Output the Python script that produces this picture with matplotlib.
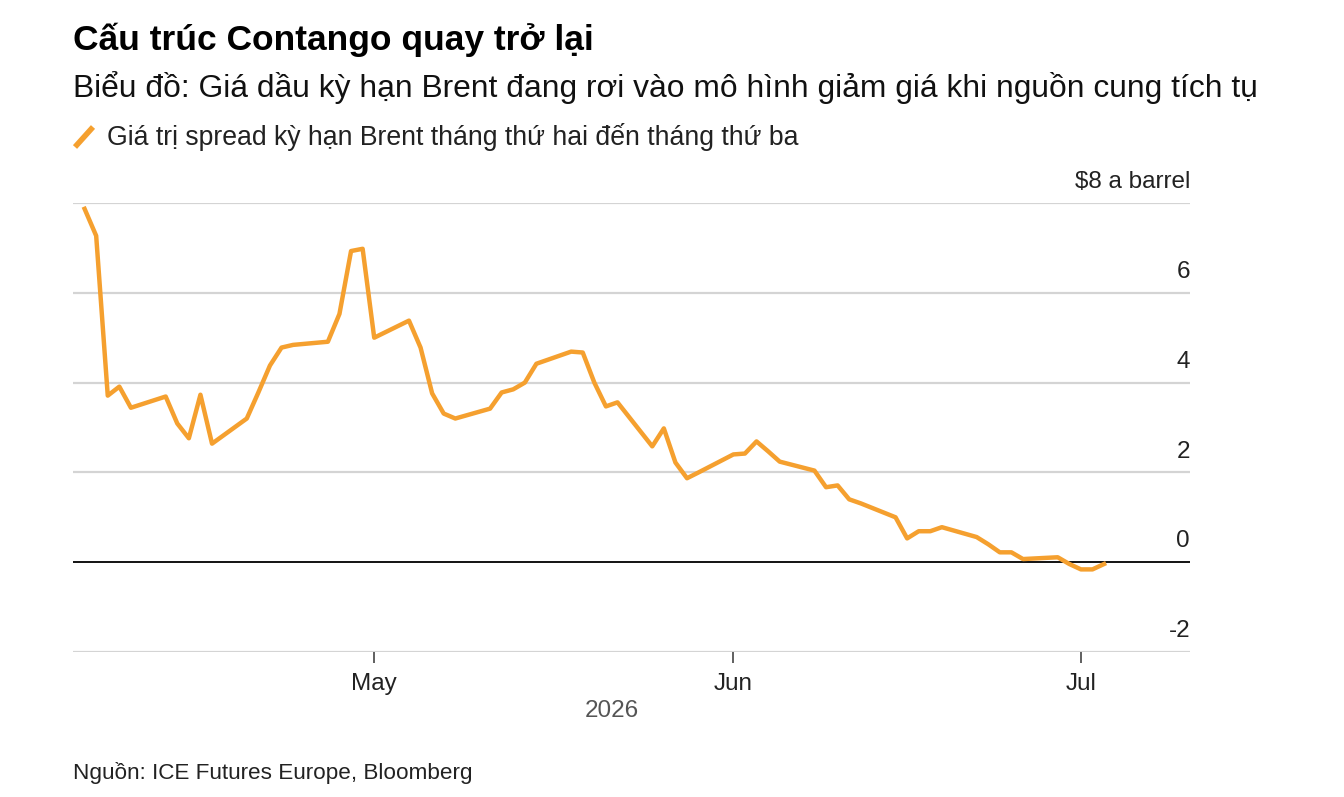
import numpy as np
import pandas as pd
import matplotlib
matplotlib.use("Agg")
import matplotlib.pyplot as plt
import matplotlib.dates as mdates
from matplotlib.lines import Line2D

plt.rcParams['font.family'] = ['Liberation Sans', 'DejaVu Sans']

# --- data ---
dates = pd.to_datetime([
    "2026-04-06", "2026-04-07", "2026-04-08", "2026-04-09", "2026-04-10",
    "2026-04-13", "2026-04-14", "2026-04-15", "2026-04-16", "2026-04-17",
    "2026-04-20", "2026-04-21", "2026-04-22", "2026-04-23", "2026-04-24",
    "2026-04-27", "2026-04-28", "2026-04-29", "2026-04-30", "2026-05-01",
    "2026-05-04", "2026-05-05", "2026-05-06", "2026-05-07", "2026-05-08",
    "2026-05-11", "2026-05-12", "2026-05-13", "2026-05-14", "2026-05-15",
    "2026-05-18", "2026-05-19", "2026-05-20", "2026-05-21", "2026-05-22",
    "2026-05-25", "2026-05-26", "2026-05-27", "2026-05-28", "2026-05-29",
    "2026-06-01", "2026-06-02", "2026-06-03", "2026-06-04", "2026-06-05",
    "2026-06-08", "2026-06-09", "2026-06-10", "2026-06-11", "2026-06-12",
    "2026-06-15", "2026-06-16", "2026-06-17", "2026-06-18", "2026-06-19",
    "2026-06-22", "2026-06-23", "2026-06-24", "2026-06-25", "2026-06-26",
    "2026-06-29", "2026-06-30", "2026-07-01", "2026-07-02", "2026-07-03",
])
spread = [
    7.87, 7.27, 3.71, 3.91, 3.44,
    3.69, 3.09, 2.76, 3.73, 2.64,
    3.20, 3.78, 4.38, 4.78, 4.84,
    4.91, 5.53, 6.93, 6.98, 5.00,
    5.38, 4.78, 3.76, 3.31, 3.20,
    3.42, 3.78, 3.85, 4.00, 4.42,
    4.69, 4.67, 4.00, 3.47, 3.56,
    2.58, 2.98, 2.22, 1.87, 2.00,
    2.40, 2.42, 2.69, 2.47, 2.24,
    2.04, 1.67, 1.71, 1.40, 1.31,
    1.00, 0.53, 0.69, 0.69, 0.78,
    0.56, 0.40, 0.22, 0.22, 0.07,
    0.11, -0.04, -0.16, -0.16, -0.04,
]
yticks = [-2, 0, 2, 4, 6, 8]
ytick_labels = ["-2", "0", "2", "4", "6", "$8 a barrel"]
month_ticks = pd.to_datetime(["2026-05-01", "2026-06-01", "2026-07-01"])
month_labels = ["May", "Jun", "Jul"]

title = "Cấu trúc Contango quay trở lại"
subtitle = "Biểu đồ: Giá dầu kỳ hạn Brent đang rơi vào mô hình giảm giá khi nguồn cung tích tụ"
legend_text = "Giá trị spread kỳ hạn Brent tháng thứ hai đến tháng thứ ba"
source = "Nguồn: ICE Futures Europe, Bloomberg"

orange = "#F5A02F"
grid_c = "#d4d4d4"

W, H = 1344, 797
fig = plt.figure(figsize=(W / 100, H / 100), dpi=100)
ax = fig.add_axes([73 / W, 1 - 652 / H, (1190 - 73) / W, (652 - 203) / H])

for v in yticks:
    if v == 0:
        ax.axhline(v, color="black", lw=1.3, zorder=2)
    else:
        ax.axhline(v, color=grid_c, lw=1.6, zorder=1)

ax.plot(dates, spread, color=orange, lw=3.2, solid_joinstyle="round", zorder=3)

ax.set_xlim(pd.Timestamp("2026-04-05"), pd.Timestamp("2026-07-10 10:00"))
ax.set_ylim(-2, 8)
for s in ax.spines.values():
    s.set_visible(False)
ax.set_yticks([])
ax.set_xticks(month_ticks)
ax.set_xticklabels(month_labels, fontsize=17.5, color="#222222")
ax.tick_params(axis="x", length=8, width=1.2, color="#444444", pad=7)

# y labels sit above gridlines on the right
for v, lab in zip(yticks, ytick_labels):
    ax.annotate(lab, xy=(1, v), xycoords=("axes fraction", "data"),
                xytext=(0, 7), textcoords="offset points",
                ha="right", va="bottom", fontsize=17.5, color="#222222")

fig.text(612 / W, 1 - 711 / H, "2026", ha="center", va="center",
         fontsize=17.5, color="#555555")

fig.text(73 / W, 1 - 40 / H, title, ha="left", va="center",
         fontsize=25.5, fontweight="bold", color="black")
fig.text(73 / W, 1 - 88 / H, subtitle, ha="left", va="center",
         fontsize=22.9, color="#111111")
fig.add_artist(Line2D([75 / W, 93 / W], [1 - 147 / H, 1 - 127 / H],
                      color=orange, lw=4, solid_capstyle="butt"))
fig.text(107 / W, 1 - 137 / H, legend_text, ha="left", va="center",
         fontsize=19.2, color="#222222")
fig.text(73 / W, 1 - 773 / H, source, ha="left", va="center",
         fontsize=16.2, color="#222222")

fig.savefig("out.png", dpi=100, facecolor="white")
